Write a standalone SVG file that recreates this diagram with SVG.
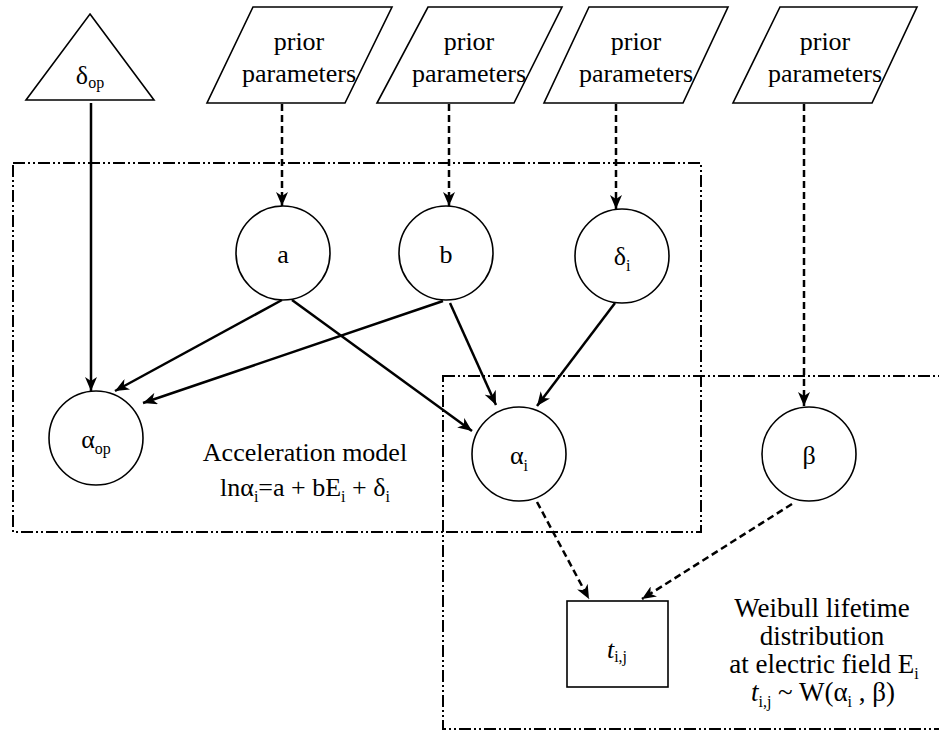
<svg xmlns="http://www.w3.org/2000/svg" width="939" height="734" viewBox="0 0 939 734">
  <style>
    .shape { fill: #fff; stroke: #000; stroke-width: 1.6; }
    .plate { fill: none; stroke: #000; stroke-width: 2; stroke-dasharray: 12 3 2 3 2 3; }
    .solid { fill: none; stroke: #000; stroke-width: 2.5; marker-end: url(#head); }
    .dashed { fill: none; stroke: #000; stroke-width: 2.5; stroke-dasharray: 7 4; marker-end: url(#head); }
    text { font-family: "Liberation Serif", "Times New Roman", serif; font-size: 26px; fill: #000; text-anchor: middle; }
    .sub { font-size: 16px; }
    .it { font-style: italic; }
    .cap { font-size: 27px; }
  </style>
  <defs>
    <marker id="head" viewBox="0 0 14 12" refX="14" refY="6" markerWidth="14" markerHeight="12" markerUnits="userSpaceOnUse" orient="auto">
      <path d="M0,0 L14,6 L0,12 L4,6 z" fill="#000"/>
    </marker>
  </defs>

  <!-- plates -->
  <g id="plates">
    <rect class="plate" x="13" y="163" width="688" height="369"/>
    <rect class="plate" x="443" y="376" width="500" height="353"/>
  </g>

  <!-- connectors -->
  <g id="connectors">
    <line class="solid" x1="91" y1="103" x2="91" y2="391"/>
    <line class="dashed" x1="282" y1="104" x2="282" y2="206"/>
    <line class="dashed" x1="449" y1="104" x2="449" y2="206"/>
    <line class="dashed" x1="616" y1="104" x2="616" y2="209"/>
    <line class="dashed" x1="804" y1="104" x2="804" y2="406"/>
    <line class="solid" x1="282" y1="300" x2="115" y2="391"/>
    <line class="solid" x1="443" y1="301" x2="143" y2="403"/>
    <line class="solid" x1="292" y1="300" x2="472" y2="431"/>
    <line class="solid" x1="450" y1="303" x2="496" y2="405"/>
    <line class="solid" x1="615" y1="303" x2="537" y2="406"/>
    <line class="dashed" x1="537" y1="502" x2="589" y2="599"/>
    <line class="dashed" x1="792" y1="504" x2="642" y2="599"/>
  </g>

  <!-- hyperparameter delta_op -->
  <g id="delta-op">
    <polygon class="shape" points="90,14 154,100 26,100"/>
    <text x="90" y="84">δ<tspan class="sub" dy="4">op</tspan></text>
  </g>

  <!-- prior parameter inputs -->
  <g id="prior-a">
    <polygon class="shape" points="253,7 392,7 345,103 207,103"/>
    <text x="299" y="50">prior</text>
    <text x="299" y="82">parameters</text>
  </g>
  <g id="prior-b">
    <polygon class="shape" points="428,7 562,7 514,103 377,103"/>
    <text x="469" y="50">prior</text>
    <text x="469" y="82">parameters</text>
  </g>
  <g id="prior-delta">
    <polygon class="shape" points="589,7 728,7 683,103 544,103"/>
    <text x="636" y="50">prior</text>
    <text x="636" y="82">parameters</text>
  </g>
  <g id="prior-beta">
    <polygon class="shape" points="780,7 917,7 872,103 733,103"/>
    <text x="825" y="50">prior</text>
    <text x="825" y="82">parameters</text>
  </g>

  <!-- random variables -->
  <g id="node-a">
    <circle class="shape" cx="283" cy="253" r="47"/>
    <text x="283" y="263">a</text>
  </g>
  <g id="node-b">
    <circle class="shape" cx="446" cy="253" r="47"/>
    <text x="446" y="263">b</text>
  </g>
  <g id="node-delta-i">
    <circle class="shape" cx="622" cy="256" r="47"/>
    <text x="622" y="265">δ<tspan class="sub" dy="6">i</tspan></text>
  </g>
  <g id="node-alpha-op">
    <circle class="shape" cx="96" cy="438" r="47"/>
    <text x="96" y="448">α<tspan class="sub" dy="6">op</tspan></text>
  </g>
  <g id="node-alpha-i">
    <circle class="shape" cx="519" cy="454" r="47"/>
    <text x="519" y="464">α<tspan class="sub" dy="7">i</tspan></text>
  </g>
  <g id="node-beta">
    <circle class="shape" cx="809" cy="454" r="47"/>
    <text x="809" y="464">β</text>
  </g>
  <g id="node-t">
    <rect class="shape" x="567" y="601" width="101" height="86"/>
    <text x="617" y="658"><tspan class="it">t</tspan><tspan class="sub" dy="4">i,j</tspan></text>
  </g>

  <!-- plate captions -->
  <g id="label-acceleration">
    <text x="305" y="461">Acceleration model</text>
    <text x="305" y="496">lnα<tspan class="sub" dy="6">i</tspan><tspan dy="-6">=a + bE</tspan><tspan class="sub" dy="6">i</tspan><tspan dy="-6"> + δ</tspan><tspan class="sub" dy="6">i</tspan></text>
  </g>
  <g id="label-weibull">
    <text class="cap" x="822" y="617">Weibull lifetime</text>
    <text class="cap" x="822" y="645">distribution</text>
    <text class="cap" x="824" y="673">at electric field E<tspan class="sub" dy="6">i</tspan></text>
    <text class="cap" x="823" y="701"><tspan class="it">t</tspan><tspan class="sub" dy="6">i,j</tspan><tspan dy="-6"> ~ W(α</tspan><tspan class="sub" dy="6">i</tspan><tspan dy="-6"> , β)</tspan></text>
  </g>
</svg>
